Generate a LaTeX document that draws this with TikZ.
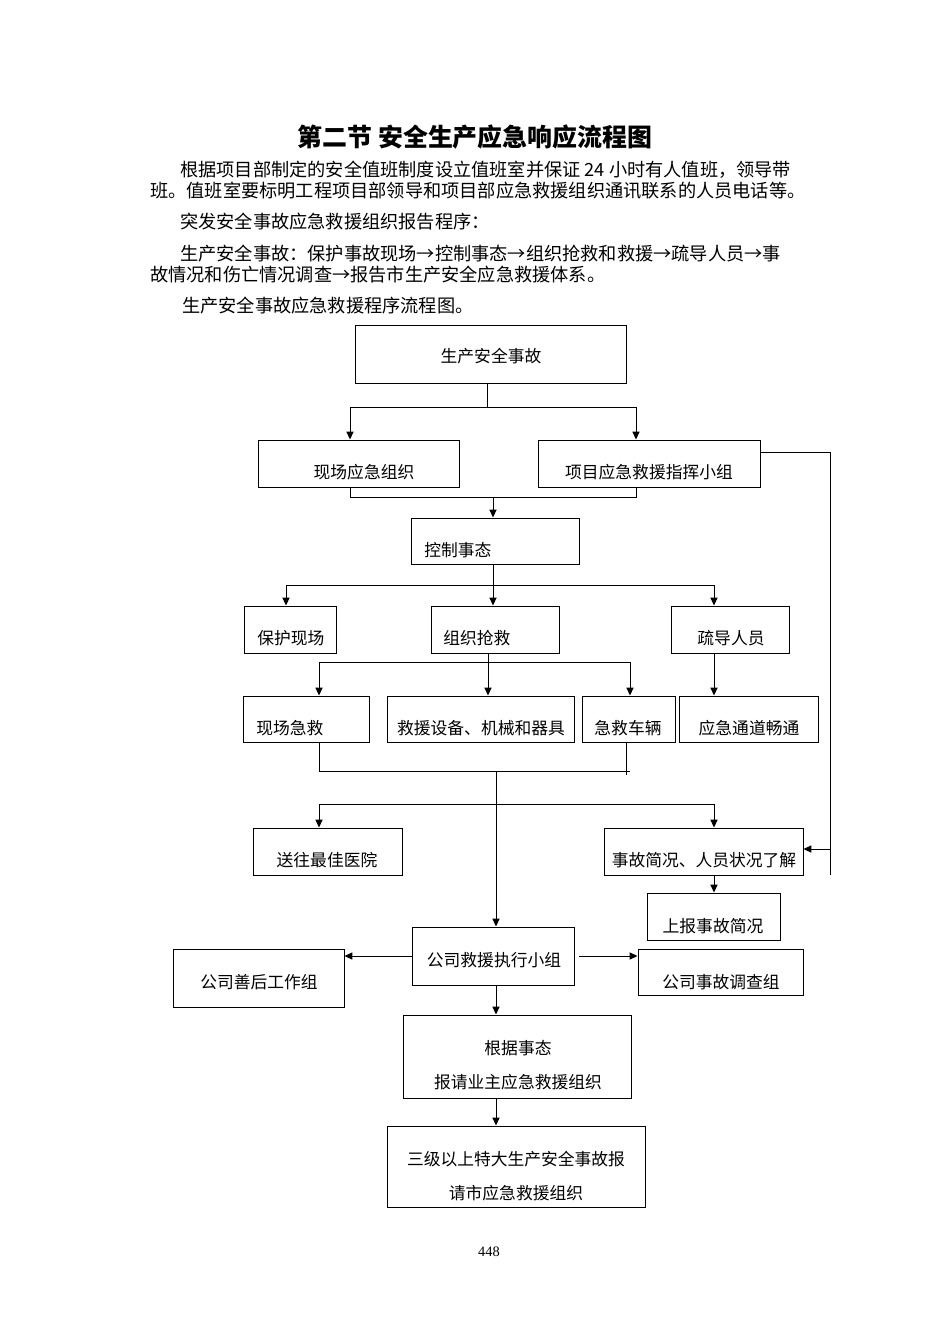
\documentclass[tikz,border=0pt]{standalone}
\usepackage{fontspec}
\setmainfont{Liberation Serif}
\newfontfamily\cjk{Noto Sans CJK SC}
\usetikzlibrary{arrows.meta,fit}
\tikzset{
  box/.style={draw, line width=0.6pt, inner sep=0pt},
  txt/.style={font=\cjk\fontsize{10.5}{12}\selectfont, inner sep=0pt},
  para/.style={font=\cjk\fontsize{11.4}{13}\selectfont, inner sep=0pt, anchor=west},
  arr/.style={-{Triangle[length=5pt,width=4.5pt]}},
  ln/.style={line width=0.6pt}
}
\begin{document}
\begin{tikzpicture}[x=0.6263pt,y=-0.6263pt]
  \useasboundingbox (0,0) rectangle (950,1344);
  \node[font=\cjk\bfseries\fontsize{15.6}{18}\selectfont, inner sep=0pt] (title) at (475,137) {第二节\ 安全生产应急响应流程图};
  \node[para] (p1) at (180,170) {根据项目部制定的安全值班制度设立值班室并保证 24 小时有人值班，领导带};
  \node[para] (p2) at (150,191) {班。值班室要标明工程项目部领导和项目部应急救援组织通讯联系的人员电话等。};
  \node[para] (p3) at (180,222) {突发安全事故应急救援组织报告程序：};
  \node[para] (p4) at (180,254) {生产安全事故：保护事故现场→控制事态→组织抢救和救援→疏导人员→事};
  \node[para] (p5) at (150,275) {故情况和伤亡情况调查→报告市生产安全应急救援体系。};
  \node[para] (p6) at (182,306) {生产安全事故应急救援程序流程图。};

  % boxes
  \node[box, fit={(355,325) (626,383)}] (acc) {};
  \node[box, fit={(258,440) (459,487)}] (site) {};
  \node[box, fit={(538,440) (760,487)}] (cmd) {};
  \node[box, fit={(411,518) (579,564)}] (ctrl) {};
  \node[box, fit={(244,606) (336,653)}] (prot) {};
  \node[box, fit={(431,606) (559,653)}] (resc) {};
  \node[box, fit={(671,606) (789,653)}] (evac) {};
  \node[box, fit={(243,696) (369,742)}] (aid) {};
  \node[box, fit={(387,696) (574,742)}] (equip) {};
  \node[box, fit={(582,696) (675,742)}] (amb) {};
  \node[box, fit={(679,696) (818,742)}] (road) {};
  \node[box, fit={(253,828) (402,875)}] (hosp) {};
  \node[box, fit={(604,828) (803,875)}] (info) {};
  \node[box, fit={(647,893) (780,940)}] (rep) {};
  \node[box, fit={(412,927) (574,985)}] (exec) {};
  \node[box, fit={(173,949) (344,1007)}] (after) {};
  \node[box, fit={(638,949) (803,995)}] (inv) {};
  \node[box, fit={(403,1015) (631,1098)}] (owner) {};
  \node[box, fit={(387,1126) (645,1207)}] (city) {};

  % texts
  \node[txt] at (491,356) {生产安全事故};
  \node[txt] at (364,472) {现场应急组织};
  \node[txt] at (649,472) {项目应急救援指挥小组};
  \node[txt, anchor=west] at (424,550) {控制事态};
  \node[txt, anchor=west] at (257,638) {保护现场};
  \node[txt, anchor=west] at (443,638) {组织抢救};
  \node[txt] at (731,638) {疏导人员};
  \node[txt, anchor=west] at (256,728) {现场急救};
  \node[txt] at (481,728) {救援设备、机械和器具};
  \node[txt] at (628,728) {急救车辆};
  \node[txt] at (749,728) {应急通道畅通};
  \node[txt] at (327,860) {送往最佳医院};
  \node[txt] at (704,860) {事故简况、人员状况了解};
  \node[txt] at (713,926) {上报事故简况};
  \node[txt] at (494,960) {公司救援执行小组};
  \node[txt] at (259,982) {公司善后工作组};
  \node[txt] at (721,982) {公司事故调查组};
  \node[txt] at (518,1048) {根据事态};
  \node[txt] at (518,1082) {报请业主应急救援组织};
  \node[txt] at (516,1159) {三级以上特大生产安全事故报};
  \node[txt] at (516,1193) {请市应急救援组织};
  \node[font=\fontsize{9}{10}\selectfont, inner sep=0pt] (pg) at (489,1252) {448};

  % connectors
  \coordinate (j1) at (487,407);
  \coordinate (j2) at (493,497);
  \coordinate (j3) at (493,585);
  \coordinate (j4) at (488,662);
  \coordinate (j5) at (496,771);
  \coordinate (j6) at (496,804);
  \coordinate (r1) at (830,452);
  \coordinate (r2) at (830,875);
  \draw[ln] (487,0 |- acc.south) -- (j1);
  \draw[ln,arr] (j1) -| (350,0 |- site.north);
  \draw[ln,arr] (j1) -| (636,0 |- cmd.north);
  \draw[ln] (350,0 |- site.south) |- (j2);
  \draw[ln] (636,0 |- cmd.south) |- (j2);
  \draw[ln,arr] (j2) -- (493,0 |- ctrl.north);
  \draw[ln] (493,0 |- ctrl.south) -- (j3);
  \draw[ln,arr] (j3) -| (286,0 |- prot.north);
  \draw[ln,arr] (j3) -- (493,0 |- resc.north);
  \draw[ln,arr] (j3) -| (714,0 |- evac.north);
  \draw[ln] (488,0 |- resc.south) -- (j4);
  \draw[ln,arr] (j4) -| (319,0 |- aid.north);
  \draw[ln,arr] (j4) -- (488,0 |- equip.north);
  \draw[ln,arr] (j4) -| (630,0 |- amb.north);
  \draw[ln,arr] (714,0 |- evac.south) -- (714,0 |- road.north);
  \draw[ln] (319,0 |- aid.south) |- (j5);
  \draw[ln] (626,0 |- amb.south) -- (626,775);
  \draw[ln] (j5) -- (630,771);
  \draw[ln,arr] (j5) -- (496,0 |- exec.north);
  \draw[ln,arr] (j6) -| (319,0 |- hosp.north);
  \draw[ln,arr] (j6) -| (714,0 |- info.north);
  \draw[ln] (cmd.east |- r1) -- (r1) -- (r2);
  \draw[ln,arr] (830,849) -- (info.east |- 0,849);
  \draw[ln,arr] (714,0 |- info.south) -- (714,0 |- rep.north);
  \draw[ln,arr] (exec.west |- 0,956) -- (after.east |- 0,956);
  \draw[ln,arr] (579,956) -- (inv.west |- 0,956);
  \draw[ln,arr] (496,0 |- exec.south) -- (496,0 |- owner.north);
  \draw[ln,arr] (496,0 |- owner.south) -- (496,0 |- city.north);
\end{tikzpicture}
\end{document}
